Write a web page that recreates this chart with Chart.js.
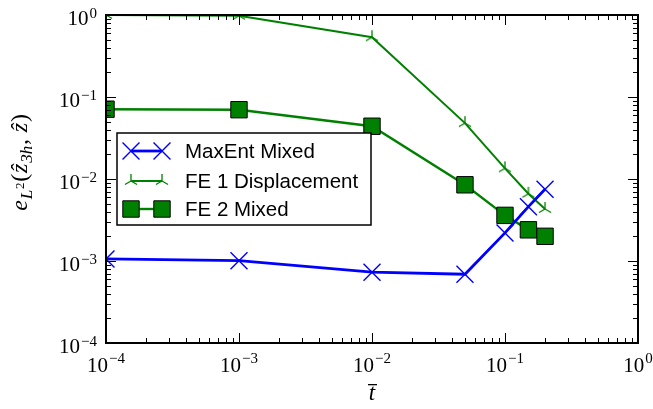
<!DOCTYPE html>
<html>
<head>
<meta charset="utf-8">
<script src="https://cdn.jsdelivr.net/npm/chart.js@4.4.1/dist/chart.umd.min.js"></script>
<style>
  html, body { margin: 0; padding: 0; background: #fff; }
  #wrap { width: 653px; height: 409px; }
</style>
</head>
<body>
<div id="wrap"><canvas id="errChart" width="653" height="409"></canvas></div>
<script>
// values (log-log)
const tValues = [1e-4, 1e-3, 1e-2, 0.05, 0.1, 0.15, 0.2];
const maxEntMixed = [1.06e-3, 1.01e-3, 7.3e-4, 6.9e-4, 2.2e-3, 4.6e-3, 7.5e-3];
const fe1Displacement = [1.0, 0.98, 0.535, 0.048, 0.0135, 0.0066, 0.0043];
const fe2Mixed = [0.071, 0.070, 0.044, 0.0085, 0.0036, 0.0024, 0.0020];
const seriesNames = ["MaxEnt Mixed", "FE 1 Displacement", "FE 2 Mixed"];
const xTickExponents = ["\u22124", "\u22123", "\u22122", "\u22121", "0"];
const yTickExponents = ["\u22124", "\u22123", "\u22122", "\u22121", "0"];

const BLUE = "#0000ff";
const GREEN = "#008000";

// tri_up marker (matplotlib "2")
function makeTriUp(color, r, lw) {
  const c = document.createElement("canvas");
  const s = Math.ceil(2 * r + 4);
  c.width = s; c.height = s;
  const g = c.getContext("2d");
  const cx = s / 2, cy = s / 2;
  g.strokeStyle = color;
  g.lineWidth = lw;
  g.beginPath();
  g.moveTo(cx, cy); g.lineTo(cx, cy - r);
  g.moveTo(cx, cy); g.lineTo(cx - r * 0.866, cy + r * 0.5);
  g.moveTo(cx, cy); g.lineTo(cx + r * 0.866, cy + r * 0.5);
  g.stroke();
  return c;
}
const triUp = makeTriUp(GREEN, 7, 1.3);

function pts(ys) { return tValues.map((t, i) => ({ x: t, y: ys[i] })); }

const SERIF = "'Liberation Serif', 'DejaVu Serif', serif";

const decorPlugin = {
  id: "decor",
  afterDatasetsDraw(chart) {
    const ctx = chart.ctx;
    const xs = chart.scales.x, ys = chart.scales.y;
    const a = chart.chartArea;
    ctx.save();

    // inward ticks on all four sides
    ctx.strokeStyle = "#000";
    ctx.lineWidth = 1;
    for (let e = -4; e <= 0; e++) {
      for (let m = 1; m <= 9; m++) {
        const v = m * Math.pow(10, e);
        if (v > 1) break;
        const len = m === 1 ? 10 : 5;
        const px = Math.round(xs.getPixelForValue(v)) + 0.5;
        const py = Math.round(ys.getPixelForValue(v)) + 0.5;
        ctx.beginPath();
        ctx.moveTo(px, a.bottom); ctx.lineTo(px, a.bottom - len);
        ctx.moveTo(px, a.top); ctx.lineTo(px, a.top + len);
        ctx.moveTo(a.left, py); ctx.lineTo(a.left + len, py);
        ctx.moveTo(a.right, py); ctx.lineTo(a.right - len, py);
        ctx.stroke();
      }
    }

    // frame
    ctx.lineWidth = 2;
    ctx.strokeRect(a.left, a.top, a.right - a.left, a.bottom - a.top);

    // tick labels 10^n
    ctx.fillStyle = "#000";
    const bigFont = "21px " + SERIF, supFont = "15px " + SERIF;
    xTickExponents.forEach((ex, i) => {
      const px = xs.getPixelForValue(Math.pow(10, i - 4));
      ctx.font = bigFont; const w1 = ctx.measureText("10").width;
      ctx.font = supFont; const w2 = ctx.measureText(ex).width;
      const x0 = px - (w1 + 1 + w2) / 2;
      ctx.textBaseline = "alphabetic"; ctx.textAlign = "left";
      ctx.font = bigFont; ctx.fillText("10", x0, a.bottom + 29);
      ctx.font = supFont; ctx.fillText(ex, x0 + w1 + 1, a.bottom + 20);
    });
    yTickExponents.forEach((ex, i) => {
      const py = ys.getPixelForValue(Math.pow(10, i - 4));
      ctx.font = bigFont; const w1 = ctx.measureText("10").width;
      ctx.font = supFont; const w2 = ctx.measureText(ex).width;
      const xr = a.left - 9;
      ctx.textAlign = "left";
      ctx.font = supFont; ctx.fillText(ex, xr - w2, py + 3);
      ctx.font = bigFont; ctx.fillText("10", xr - w2 - 1 - w1, py + 10);
    });

    // x axis title: t-bar
    ctx.font = "italic 23px " + SERIF;
    ctx.textAlign = "center";
    const tx = (a.left + a.right) / 2;
    ctx.fillText("t", tx, 400);
    ctx.fillRect(tx - 4, 384, 9, 1.3);

    // y axis title: e_{L^2}(z^_{3h}, z^)
    const pieces = [
      ["italic 24px " + SERIF, "e", 0],
      ["italic 17px " + SERIF, "L", 5],
      ["13px " + SERIF, "2", -3],
      ["24px " + SERIF, "(", 0],
      ["italic 24px " + SERIF, "\u1E91", 0],
      ["italic 17px " + SERIF, "3h", 5],
      ["24px " + SERIF, ", ", 0],
      ["italic 24px " + SERIF, "\u1E91", 0],
      ["24px " + SERIF, ")", 0]
    ];
    let total = 0;
    pieces.forEach(p => { ctx.font = p[0]; total += ctx.measureText(p[1]).width + 0.8; });
    ctx.save();
    ctx.translate(27, 162);
    ctx.rotate(-Math.PI / 2);
    ctx.textAlign = "left";
    let cx = -total / 2;
    pieces.forEach(p => {
      ctx.font = p[0];
      ctx.fillText(p[1], cx, p[2]);
      cx += ctx.measureText(p[1]).width + 0.8;
    });
    ctx.restore();

    // legend
    const lx = 117, ly = 133, lw = 254, lh = 92;
    ctx.fillStyle = "#fff";
    ctx.fillRect(lx, ly, lw, lh);
    ctx.strokeStyle = "#000";
    ctx.lineWidth = 1.5;
    ctx.strokeRect(lx, ly, lw, lh);
    const rowY = [151, 181, 209];
    chart.data.datasets.forEach((ds, i) => {
      const y = rowY[i];
      ctx.strokeStyle = ds.borderColor;
      ctx.lineWidth = ds.borderWidth;
      ctx.beginPath();
      ctx.moveTo(131, y); ctx.lineTo(162, y);
      ctx.stroke();
      [131, 162].forEach(mx => {
        ctx.fillStyle = ds.pointBackgroundColor;
        ctx.strokeStyle = ds.pointBorderColor;
        ctx.lineWidth = ds.pointBorderWidth;
        Chart.helpers.drawPoint(ctx, {
          pointStyle: ds.pointStyle, radius: ds.pointRadius,
          borderWidth: ds.pointBorderWidth, rotation: 0
        }, mx, y);
      });
      ctx.fillStyle = "#000";
      ctx.font = "20.5px 'Liberation Sans', Arial, sans-serif";
      ctx.textAlign = "left";
      ctx.textBaseline = "middle";
      ctx.fillText(ds.label, 185, y + 1);
      ctx.textBaseline = "alphabetic";
    });

    ctx.restore();
  }
};

new Chart(document.getElementById("errChart"), {
  type: "line",
  data: {
    datasets: [
      {
        label: seriesNames[0], data: pts(maxEntMixed),
        borderColor: BLUE, borderWidth: 2.8,
        pointStyle: "crossRot", pointRadius: 12, pointBorderWidth: 1.4,
        pointBorderColor: BLUE, pointBackgroundColor: BLUE,
        clip: 0
      },
      {
        label: seriesNames[1], data: pts(fe1Displacement),
        borderColor: GREEN, borderWidth: 2,
        pointStyle: triUp, pointRadius: 7, pointBorderWidth: 1.3,
        pointBorderColor: GREEN, pointBackgroundColor: GREEN,
        clip: 0
      },
      {
        label: seriesNames[2], data: pts(fe2Mixed),
        borderColor: GREEN, borderWidth: 2.4,
        pointStyle: "rect", pointRadius: 11.6, pointBorderWidth: 1,
        pointBorderColor: "#000", pointBackgroundColor: GREEN,
        clip: 0
      }
    ]
  },
  options: {
    responsive: false,
    animation: false,
    events: [],
    layout: { padding: { left: 106, right: 15, top: 15, bottom: 66 } },
    scales: {
      x: { type: "logarithmic", min: 1e-4, max: 1, display: false },
      y: { type: "logarithmic", min: 1e-4, max: 1, display: false }
    },
    elements: { line: { tension: 0 } },
    plugins: { legend: { display: false }, tooltip: { enabled: false } }
  },
  plugins: [decorPlugin]
});
</script>
</body>
</html>
